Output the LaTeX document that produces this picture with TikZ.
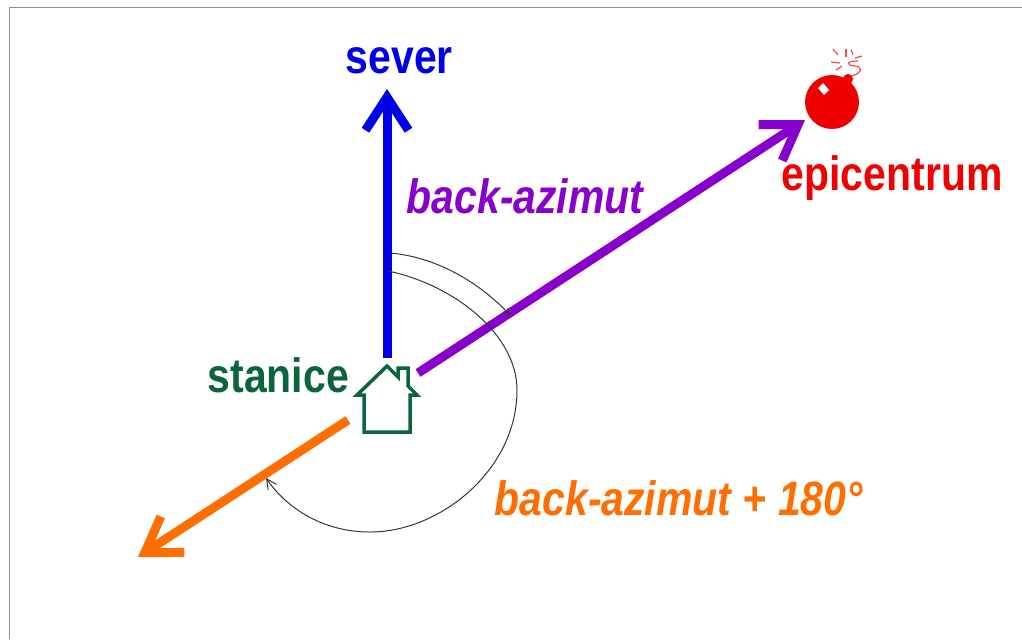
\documentclass[tikz,border=0pt]{standalone}
\usepackage{fontspec}
\setmainfont{Liberation Sans}
\newfontfamily\narrowfont[FakeStretch=0.85]{Liberation Sans}
\usetikzlibrary{arrows.meta}
\definecolor{severcol}{RGB}{0,0,230}
\definecolor{azimcol}{RGB}{136,0,204}
\definecolor{orangecol}{RGB}{255,110,0}
\definecolor{stancol}{RGB}{10,100,60}
\definecolor{epicol}{RGB}{240,0,0}

\begin{document}
\begin{tikzpicture}[x=0.01cm,y=-0.01cm]
	\tikzstyle{label}=[inner sep=0pt,anchor=base west,font=\narrowfont\bfseries\fontsize{13.7}{16}\selectfont]
	\tikzstyle{slanted}=[label,font=\narrowfont\bfseries\itshape\fontsize{13.7}{16}\selectfont]
	\tikzstyle{fat}=[line width=0.09cm,-{Straight Barb[length=0.33cm,width=0.43cm,line width=0.09cm]}]
	\tikzstyle{thin}=[line width=0.28pt,black!80]
	\useasboundingbox (0,0) rectangle (1022,639);
	\draw[black!45,line width=0.2pt] (9,639) -- (9,7) -- (1022,7);
	% labels
	\node[label,text=severcol] (sever) at (345,73){sever};
	\node[slanted,text=azimcol] (azim) at (406,213){back-azimut};
	\node[label,text=stancol] (stanice) at (207,392){stanice};
	\node[label,text=epicol] (epi) at (781,190){epicentrum};
	\node[slanted,text=orangecol] (azimplus) at (494,515){back-azimut + 180°};
	% arrow ends
	\coordinate (severA) at (387,358);
	\coordinate (severB) at (387,89);
	\coordinate (epiA) at (418,373);
	\coordinate (epiB) at (805,120);
	\coordinate (oppA) at (348,420);
	\coordinate (oppB) at (138,557);
	\draw[fat,severcol] (severA) -- (severB);
	\draw[fat,azimcol] (epiA) -- (epiB);
	\draw[fat,orangecol] (oppA) -- (oppB);
	% angles
	\coordinate (arcA) at (390,253);
	\coordinate (arcB) at (510,315);
	\coordinate (arcC) at (388,271);
	\coordinate (arcD) at (517,390);
	\coordinate (arcE) at (370,532);
	\coordinate (arcF) at (266,478);
	\draw[thin,-{To[length=0.07cm,width=0.07cm]}] (arcA) .. controls (437,257) and (480,283) .. (arcB);
	\draw[thin] (arcC) .. controls (455,285) and (517,335) .. (arcD);
	\draw[thin,-{Straight Barb[length=0.1cm,width=0.1cm]}] (arcD) .. controls (517,470) and (440,532) .. (arcE) .. controls (325,532) and (288,510) .. (arcF);
	% house
	\draw[stancol,line width=0.035cm,miter limit=4] (387,366) -- (398,377) -- (398,368) -- (408,368) -- (408,386) -- (417,395) -- (410,395) -- (410,432) -- (364,432) -- (364,395) -- (357,395) -- cycle;
	% bomb
	\fill[epicol] (832,102) circle (27);
	\fill[epicol] (848,79) circle (5);
	\fill[white] (818,88) -- (823,83) -- (829,90) -- (824,95) -- cycle;
	\draw[epicol!70,line width=0.35pt] (852,76) .. controls (864,72) and (862,66) .. (854,66) .. controls (846,65) and (846,61) .. (858,61);
	\foreach \a/\b/\c/\d in {846/49/846/57, 833/49/838/55, 831/62/840/63, 836/70/842/66, 851/50/853/55, 855/58/862/56}
		\draw[epicol!70,line width=0.35pt] (\a,\b) -- (\c,\d);
\end{tikzpicture}
\end{document}
